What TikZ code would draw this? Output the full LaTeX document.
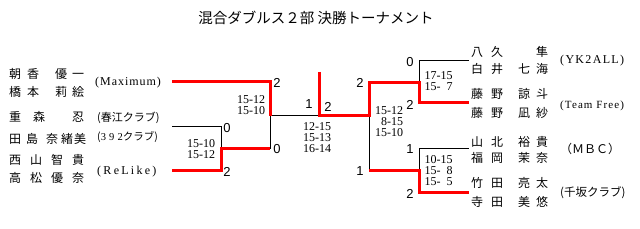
\documentclass[tikz,border=0pt]{standalone}
\usepackage{fontspec}
\setmainfont{Liberation Serif}
\newfontfamily\jpfont{Noto Sans CJK JP}
\newfontfamily\digfont{Liberation Sans}
\newfontfamily\spfont{Liberation Serif}
\newcommand\jch[1]{\makebox[12pt]{#1}}
\newcommand\lsp[2]{{\spfont\addfontfeatures{LetterSpace=#1}#2}}
\begin{document}
\begin{tikzpicture}[x=1pt,y=-1pt,
  win/.style={draw=red,line width=3pt,line join=miter},
  lose/.style={draw=black,line width=1pt},
  pname/.style={anchor=west,inner sep=0pt,font=\jpfont\fontsize{12}{12}\selectfont},
  club/.style={anchor=west,inner sep=0pt,font=\fontsize{12}{13}\selectfont},
  jclub/.style={anchor=west,inner sep=0pt,font=\jpfont\fontsize{11}{12}\selectfont},
  score/.style={inner sep=0pt,font=\fontsize{12}{11}\selectfont},
  pts/.style={inner sep=0pt,font=\digfont\fontsize{13}{13}\selectfont}]
\useasboundingbox[fill=white] (0,0) rectangle (640,229);
% title
\node[inner sep=0pt,font=\jpfont\fontsize{14.5}{15}\selectfont] (title) at (316,18) {混合ダブルス２部 決勝トーナメント};
% left names
\node[pname] (n1a) at (9,74) {\jch{朝}\hspace{6pt}\jch{香}\hspace{16pt}\jch{優}\hspace{5pt}\jch{一}};
\node[pname] (n1b) at (9,92) {\jch{橋}\hspace{6pt}\jch{本}\hspace{16pt}\jch{莉}\hspace{5pt}\jch{絵}};
\node[pname] (n2a) at (9,117) {\jch{重}\hspace{12pt}\jch{森}\hspace{27pt}\jch{忍}};
\node[pname] (n2b) at (9,139) {\jch{田}\hspace{5pt}\jch{島}\hspace{8pt}\jch{奈}\hspace{3pt}\jch{緒}\hspace{1pt}\jch{美}};
\node[pname] (n3a) at (9,160) {\jch{西}\hspace{9pt}\jch{山}\hspace{9pt}\jch{智}\hspace{9pt}\jch{貴}};
\node[pname] (n3b) at (9,178) {\jch{高}\hspace{9pt}\jch{松}\hspace{9pt}\jch{優}\hspace{9pt}\jch{奈}};
% left clubs
\node[club] (c1) at (95,83) {\lsp{8}{(Maximum)}};
\node[jclub] (c2a) at (97,118) {(春江クラブ)};
\node[jclub,font=\jpfont\fontsize{10.5}{12}\selectfont] (c2b) at (97,137) {(\lsp{30}{392}クラブ)};
\node[club] (c3) at (97,172) {\lsp{19}{(ReLike)}};
% right names
\node[pname] (m1a) at (471,52) {\jch{八}\hspace{8pt}\jch{久}\hspace{33pt}\jch{隼}};
\node[pname] (m1b) at (471,69) {\jch{白}\hspace{8pt}\jch{井}\hspace{15pt}\jch{七}\hspace{6pt}\jch{海}};
\node[pname] (m2a) at (471,94) {\jch{藤}\hspace{8pt}\jch{野}\hspace{15pt}\jch{諒}\hspace{6pt}\jch{斗}};
\node[pname] (m2b) at (471,113) {\jch{藤}\hspace{8pt}\jch{野}\hspace{15pt}\jch{凪}\hspace{6pt}\jch{紗}};
\node[pname] (m3a) at (471,142) {\jch{山}\hspace{8pt}\jch{北}\hspace{15pt}\jch{裕}\hspace{6pt}\jch{貴}};
\node[pname] (m3b) at (471,158) {\jch{福}\hspace{8pt}\jch{岡}\hspace{15pt}\jch{茉}\hspace{6pt}\jch{奈}};
\node[pname] (m4a) at (471,183) {\jch{竹}\hspace{8pt}\jch{田}\hspace{15pt}\jch{亮}\hspace{6pt}\jch{太}};
\node[pname] (m4b) at (471,202) {\jch{寺}\hspace{8pt}\jch{田}\hspace{15pt}\jch{美}\hspace{6pt}\jch{悠}};
% right clubs
\node[club] (d1) at (560,61) {\lsp{11}{(YK2ALL)}};
\node[club,font=\fontsize{11}{12}\selectfont] (d2) at (560,106) {\lsp{10}{(Team Free)}};
\node[jclub,font=\jpfont\fontsize{12}{12}\selectfont] (d3) at (560,149) {（ＭＢＣ）};
\node[jclub,font=\jpfont\fontsize{11.5}{12}\selectfont] (d4) at (560,193) {(千坂クラブ)};
% bracket points
\coordinate (a1) at (172,82);  \coordinate (r1) at (270,82);
\coordinate (a2) at (172,127); \coordinate (q1) at (221,127);
\coordinate (a3) at (172,171); \coordinate (q2) at (221,171);
\coordinate (q3) at (221,149); \coordinate (r2) at (270,149);
\coordinate (r3) at (270,116); \coordinate (c1) at (319,116);
\coordinate (c0) at (319,72);  \coordinate (s0) at (369,116);
\coordinate (s1) at (369,83);  \coordinate (s2) at (369,171);
\coordinate (t0) at (419,61);  \coordinate (t1) at (419,83);
\coordinate (t2) at (419,103); \coordinate (t3) at (469,103);
\coordinate (t4) at (469,61);
\coordinate (u0) at (419,149); \coordinate (u1) at (419,171);
\coordinate (u2) at (419,193); \coordinate (u3) at (469,193);
\coordinate (u4) at (469,149);
% losers
\draw[lose] (a2) -- (q1) -- (q3);
\draw[lose] (r2) -- (r3) -- (c1);
\draw[lose] (s0) -- (s2);
\draw[lose] (t1) -- (t0) -- (t4);
\draw[lose] (u1) -- (u0) -- (u4);
% winners
\draw[win] (a1) -- (r1) -- (r3);
\draw[win] (a3) -- (q2) -- (q3) -- (r2);
\draw[win] (c0) -- (c1) -- (s0) -- (s1) -- (t1) -- (t2) -- (t3);
\draw[win] (s2) -- (u1) -- (u2) -- (u3);
% points
\node[pts] (p1) at (277,83) {2};
\node[pts] (p2) at (277,149) {0};
\node[pts] (p3) at (227,128) {0};
\node[pts] (p4) at (227,172) {2};
\node[pts] (p5) at (309,104) {1};
\node[pts] (p6) at (328,107) {2};
\node[pts] (p7) at (360,83) {2};
\node[pts] (p8) at (360,171) {1};
\node[pts] (p9) at (410,62) {0};
\node[pts] (p10) at (410,105) {2};
\node[pts] (p11) at (410,149) {1};
\node[pts] (p12) at (410,194) {2};
% scores
\node[score,align=center] (sa) at (201,149) {15-10\\15-12};
\node[score,align=center] (sb) at (251,105) {15-12\\15-10};
\node[score,align=center] (sc) at (317,138) {12-15\\15-13\\16-14};
\node[score,align=right] (sd) at (389,121.5) {15-12\\8-15\\15-10};
\node[score,align=left] (se) at (438.5,81.5) {17-15\\15-\hphantom{1}7};
\node[score,align=left] (sf) at (438.5,171) {10-15\\15-\hphantom{1}8\\15-\hphantom{1}5};
\end{tikzpicture}
\end{document}
